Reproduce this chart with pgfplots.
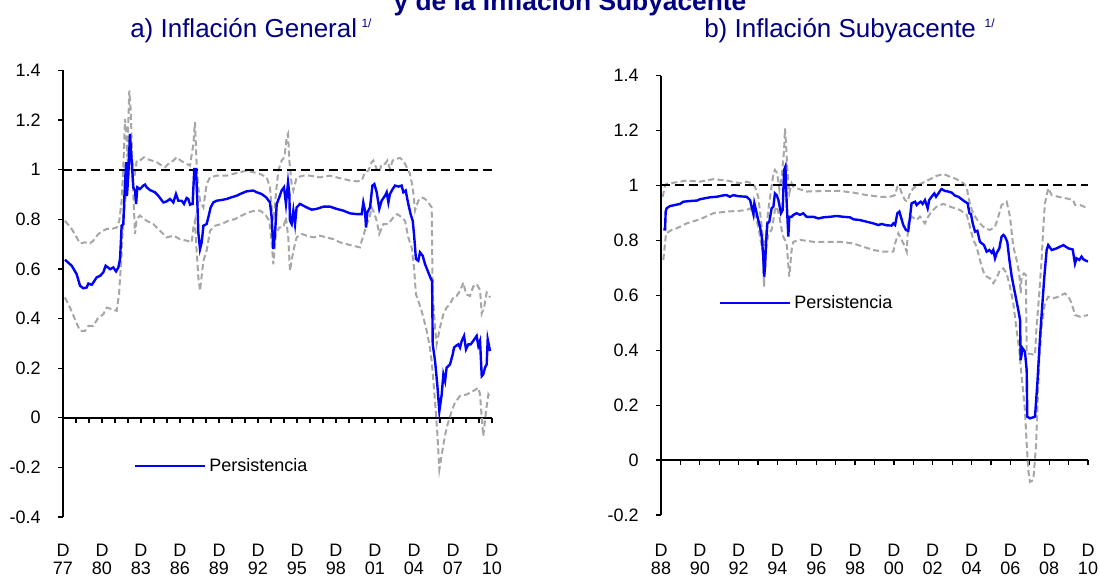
\documentclass[border=0pt]{standalone}
\usepackage{fontspec}
\setmainfont{Liberation Sans}
\usepackage{pgfplots}
\pgfplotsset{compat=1.18}
\definecolor{navy}{RGB}{0,0,128}
\definecolor{bandgray}{RGB}{166,166,166}
\definecolor{pblue}{RGB}{0,0,255}
\pgfplotsset{
  panel/.style={
    scale only axis, anchor=south west,
    axis y line*=left, axis x line*=middle,
    tick align=outside,
    major tick length=3.75pt, minor tick length=3.75pt,
    tick style={black, line width=0.9pt},
    axis line style={black, line width=1.1pt},
    tick label style={font=\fontsize{13.5}{13.5}\selectfont},
    yticklabel style={xshift=-9.5pt},
    xticklabel style={align=center, anchor=north},
    hide obscured x ticks=false, hide obscured y ticks=false,
    legend style={draw=none, fill=none, inner sep=0pt, anchor=west,
      font=\fontsize{13.5}{14.5}\selectfont},
    legend cell align=left,
    legend image code/.code={\draw[#1] (0pt,0pt) -- (52.5pt,0pt);},
  },
  band/.style={bandgray, line width=1.5pt, dash pattern=on 4.5pt off 2.5pt, forget plot},
  unity/.style={black, line width=1.5pt, dash pattern=on 6.5pt off 4pt, forget plot},
  pers/.style={pblue, line width=1.8pt},
}
\begin{document}
\begin{tikzpicture}
\useasboundingbox (0,0) rectangle (825pt,-432.75pt);
\node[anchor=base, text=navy, font=\fontsize{19.75}{21}\selectfont\bfseries, inner sep=0pt] at (427.5pt,-8pt) {y de la Inflación Subyacente};
\node[anchor=base west, text=navy, font=\fontsize{19.5}{21}\selectfont, inner sep=0pt] at (97.5pt,-28.5pt) {a) Inflación General\,\raisebox{7.5pt}{\fontsize{9}{10}\selectfont 1/}};
\node[anchor=base west, text=navy, font=\fontsize{19.5}{21}\selectfont, inner sep=0pt] at (528pt,-28.5pt) {b) Inflación Subyacente\,\,\raisebox{7.5pt}{\fontsize{9}{10}\selectfont 1/}};

% ---------------- left panel ----------------
\begin{axis}[panel,
  at={(47.25pt,-387.75pt)}, width=321.75pt, height=334.9pt,
  xmin=1977.92, xmax=2010.92, ymin=-0.4, ymax=1.4,
  ytick={-0.4,-0.2,0,0.2,0.4,0.6,0.8,1,1.2,1.4},
  yticklabels={-0.4,-0.2,0,0.2,0.4,0.6,0.8,1,1.2,1.4},
  xtick={1977.92,1980.92,1983.92,1986.92,1989.92,1992.92,1995.92,1998.92,2001.92,2004.92,2007.92,2010.92},
  xticklabels={{D\\77},{D\\80},{D\\83},{D\\86},{D\\89},{D\\92},{D\\95},{D\\98},{D\\01},{D\\04},{D\\07},{D\\10}},
  minor x tick num=2,
  xticklabel style={yshift=-87.5pt},
  legend style={at={(0.1655,0.114)}},
]
\addplot[band] coordinates {(1978.07,0.794)(1978.59,0.761)(1978.97,0.727)(1979.23,0.703)(1979.61,0.707)(1980.00,0.703)(1980.25,0.714)(1980.64,0.741)(1981.02,0.754)(1981.28,0.761)(1981.66,0.761)(1982.05,0.767)(1982.25,0.794)(1982.43,0.875)(1982.56,1.010)(1982.69,1.205)(1982.77,1.158)(1982.87,1.050)(1983.02,1.319)(1983.13,1.239)(1983.25,1.037)(1983.41,0.969)(1983.59,1.037)(1983.84,1.037)(1984.15,1.050)(1984.36,1.043)(1984.74,1.037)(1985.13,1.030)(1985.51,1.017)(1985.77,1.010)(1986.02,1.023)(1986.41,1.037)(1986.66,1.050)(1986.92,1.039)(1987.18,1.030)(1987.43,1.023)(1987.69,1.017)(1987.95,1.104)(1988.07,1.192)(1988.20,1.023)(1988.33,0.929)(1988.46,0.875)(1988.72,0.848)(1988.97,0.942)(1989.23,0.969)(1989.74,0.976)(1990.51,0.976)(1991.02,0.983)(1991.54,0.990)(1992.05,0.996)(1992.56,0.990)(1993.07,0.983)(1993.59,0.969)(1993.84,0.929)(1993.97,0.848)(1994.10,0.794)(1994.30,0.902)(1994.48,0.996)(1994.74,1.037)(1994.95,1.050)(1995.13,1.131)(1995.23,1.144)(1995.33,1.037)(1995.51,0.942)(1995.64,0.916)(1995.89,0.969)(1996.41,0.976)(1996.92,0.976)(1997.69,0.969)(1998.46,0.976)(1998.97,0.969)(1999.48,0.963)(2000.00,0.956)(2000.51,0.953)(2000.90,0.956)(2001.15,0.990)(2001.41,0.996)(2001.66,1.030)(2001.79,1.037)(2002.05,1.003)(2002.25,0.990)(2002.43,1.023)(2002.69,1.023)(2002.87,1.037)(2003.07,1.003)(2003.28,1.037)(2003.46,1.043)(2003.84,1.047)(2004.10,1.037)(2004.36,1.010)(2004.61,0.983)(2004.82,0.929)(2005.00,0.835)(2005.25,0.875)(2005.51,0.889)(2005.77,0.882)(2006.02,0.868)(2006.28,0.848)(2006.36,0.498)(2006.54,0.364)(2006.66,0.296)(2006.92,0.364)(2007.18,0.417)(2007.43,0.444)(2007.69,0.458)(2007.95,0.485)(2008.20,0.491)(2008.46,0.512)(2008.72,0.545)(2008.92,0.498)(2009.23,0.491)(2009.48,0.530)(2009.74,0.539)(2010.00,0.515)(2010.13,0.420)(2010.31,0.444)(2010.51,0.505)(2010.64,0.498)(2010.77,0.485)};
\addplot[band] coordinates {(1978.07,0.485)(1978.46,0.444)(1978.84,0.397)(1979.23,0.350)(1979.61,0.350)(1979.87,0.370)(1980.25,0.370)(1980.64,0.404)(1981.02,0.417)(1981.28,0.444)(1981.66,0.438)(1982.05,0.431)(1982.23,0.498)(1982.43,0.660)(1982.56,0.808)(1982.69,0.862)(1982.82,0.929)(1982.92,1.091)(1983.02,0.996)(1983.13,1.091)(1983.28,0.956)(1983.46,0.741)(1983.59,0.801)(1983.84,0.815)(1984.36,0.794)(1984.87,0.781)(1985.38,0.754)(1985.89,0.727)(1986.41,0.734)(1986.92,0.720)(1987.43,0.714)(1987.82,0.707)(1987.95,0.767)(1988.07,0.794)(1988.20,0.673)(1988.33,0.566)(1988.46,0.512)(1988.72,0.633)(1988.97,0.673)(1989.23,0.754)(1989.61,0.774)(1990.12,0.781)(1990.64,0.794)(1991.15,0.801)(1991.66,0.815)(1992.18,0.828)(1992.69,0.835)(1993.07,0.835)(1993.46,0.821)(1993.79,0.794)(1993.97,0.707)(1994.10,0.619)(1994.30,0.741)(1994.56,0.767)(1994.87,0.767)(1995.07,0.808)(1995.25,0.727)(1995.38,0.592)(1995.51,0.633)(1995.64,0.673)(1995.89,0.727)(1996.28,0.741)(1996.66,0.734)(1997.18,0.727)(1997.69,0.734)(1998.20,0.727)(1998.72,0.720)(1999.23,0.707)(1999.74,0.700)(2000.25,0.693)(2000.77,0.687)(2000.90,0.714)(2001.07,0.741)(2001.28,0.781)(2001.48,0.801)(2001.66,0.848)(2001.84,0.828)(2002.05,0.794)(2002.25,0.741)(2002.56,0.781)(2002.95,0.781)(2003.33,0.808)(2003.64,0.821)(2003.97,0.808)(2004.23,0.794)(2004.48,0.727)(2004.74,0.687)(2004.92,0.606)(2005.07,0.498)(2005.25,0.471)(2005.51,0.431)(2005.90,0.350)(2006.10,0.296)(2006.28,0.229)(2006.54,0.067)(2006.72,-0.067)(2006.87,-0.209)(2007.18,-0.108)(2007.43,-0.040)(2007.82,0.027)(2008.07,0.061)(2008.46,0.088)(2008.97,0.094)(2009.48,0.108)(2009.87,0.121)(2010.00,0.094)(2010.13,0.000)(2010.25,-0.074)(2010.46,0.027)(2010.64,0.094)(2010.77,0.081)};
\addplot[unity] coordinates {(1977.92,1)(2010.92,1)};
\addplot[pers] coordinates {(1978.07,0.637)(1978.59,0.613)(1978.97,0.579)(1979.23,0.532)(1979.48,0.522)(1979.74,0.525)(1979.87,0.541)(1980.13,0.536)(1980.25,0.545)(1980.51,0.566)(1980.77,0.572)(1981.02,0.586)(1981.20,0.613)(1981.54,0.599)(1981.79,0.606)(1982.00,0.590)(1982.18,0.606)(1982.31,0.640)(1982.43,0.774)(1982.56,0.781)(1982.64,0.889)(1982.77,1.030)(1982.84,0.895)(1982.95,0.983)(1983.07,1.144)(1983.20,1.037)(1983.33,0.929)(1983.46,0.916)(1983.54,0.862)(1983.64,0.929)(1983.84,0.922)(1984.10,0.936)(1984.23,0.940)(1984.36,0.929)(1984.61,0.918)(1984.99,0.909)(1985.25,0.895)(1985.64,0.868)(1985.89,0.872)(1986.15,0.882)(1986.41,0.868)(1986.61,0.902)(1986.79,0.875)(1987.05,0.875)(1987.23,0.862)(1987.43,0.886)(1987.56,0.882)(1987.69,0.859)(1987.89,0.862)(1988.02,1.003)(1988.15,1.003)(1988.25,0.875)(1988.33,0.747)(1988.46,0.680)(1988.59,0.707)(1988.72,0.774)(1988.97,0.781)(1989.10,0.808)(1989.28,0.848)(1989.48,0.868)(1989.74,0.875)(1990.12,0.878)(1990.51,0.882)(1990.89,0.889)(1991.28,0.895)(1991.54,0.902)(1992.05,0.913)(1992.56,0.916)(1992.82,0.909)(1993.20,0.902)(1993.54,0.889)(1993.84,0.868)(1993.97,0.808)(1994.10,0.680)(1994.23,0.741)(1994.36,0.862)(1994.56,0.889)(1994.74,0.916)(1994.92,0.929)(1995.07,0.862)(1995.23,0.949)(1995.33,0.902)(1995.38,0.794)(1995.51,0.781)(1995.64,0.835)(1995.77,0.781)(1995.89,0.848)(1996.15,0.862)(1996.41,0.855)(1996.66,0.848)(1997.05,0.839)(1997.43,0.842)(1997.95,0.851)(1998.46,0.851)(1998.97,0.842)(1999.48,0.835)(2000.00,0.824)(2000.51,0.821)(2000.90,0.821)(2001.02,0.868)(2001.15,0.835)(2001.23,0.767)(2001.33,0.828)(2001.54,0.848)(2001.72,0.936)(2001.87,0.942)(2002.05,0.909)(2002.25,0.842)(2002.43,0.875)(2002.69,0.895)(2002.82,0.909)(2002.95,0.868)(2003.07,0.902)(2003.28,0.922)(2003.46,0.936)(2003.72,0.932)(2003.97,0.936)(2004.10,0.909)(2004.28,0.916)(2004.48,0.862)(2004.66,0.821)(2004.82,0.794)(2004.92,0.741)(2005.07,0.640)(2005.25,0.633)(2005.38,0.667)(2005.59,0.653)(2005.77,0.619)(2006.02,0.586)(2006.23,0.559)(2006.31,0.552)(2006.36,0.296)(2006.54,0.229)(2006.72,0.128)(2006.87,0.027)(2007.05,0.094)(2007.18,0.175)(2007.31,0.148)(2007.43,0.202)(2007.69,0.215)(2007.90,0.256)(2008.00,0.283)(2008.15,0.290)(2008.33,0.296)(2008.46,0.283)(2008.59,0.310)(2008.77,0.330)(2008.92,0.276)(2009.10,0.296)(2009.28,0.296)(2009.48,0.310)(2009.74,0.330)(2009.87,0.290)(2010.00,0.310)(2010.13,0.168)(2010.25,0.175)(2010.38,0.202)(2010.51,0.215)(2010.59,0.316)(2010.77,0.269)};
\addlegendentry{Persistencia}
\end{axis}

% ---------------- right panel ----------------
\begin{axis}[panel,
  at={(495.75pt,-386.25pt)}, width=320.25pt, height=329.5pt,
  xmin=1988.92, xmax=2010.92, ymin=-0.2, ymax=1.4,
  ytick={-0.2,0,0.2,0.4,0.6,0.8,1,1.2,1.4},
  yticklabels={-0.2,0,0.2,0.4,0.6,0.8,1,1.2,1.4},
  xtick={1988.92,1990.92,1992.92,1994.92,1996.92,1998.92,2000.92,2002.92,2004.92,2006.92,2008.92,2010.92},
  xticklabels={{D\\88},{D\\90},{D\\92},{D\\94},{D\\96},{D\\98},{D\\00},{D\\02},{D\\04},{D\\06},{D\\08},{D\\10}},
  minor x tick num=1,
  xticklabel style={yshift=-55.5pt},
  legend style={at={(0.1358,0.4826)}},
]
\addplot[band] coordinates {(1989.01,0.959)(1989.13,1.002)(1989.21,1.006)(1990.24,1.018)(1990.93,1.014)(1991.62,1.023)(1992.30,1.018)(1992.99,1.008)(1993.33,1.014)(1993.59,1.008)(1993.76,0.996)(1993.93,0.959)(1994.05,0.887)(1994.16,0.814)(1994.23,0.741)(1994.33,0.826)(1994.45,0.911)(1994.57,0.972)(1994.71,1.044)(1994.79,1.057)(1994.91,1.044)(1995.02,0.984)(1995.14,1.032)(1995.26,1.129)(1995.31,1.208)(1995.36,1.154)(1995.43,1.057)(1995.53,0.972)(1995.65,1.008)(1995.74,0.996)(1995.91,0.990)(1996.42,0.978)(1997.45,0.980)(1998.14,0.980)(1998.83,0.974)(1999.52,0.965)(2000.20,0.959)(2000.72,0.959)(2000.98,0.965)(2001.10,0.996)(2001.20,0.998)(2001.32,0.972)(2001.49,0.947)(2001.61,0.941)(2001.75,0.972)(2001.92,0.990)(2002.18,1.002)(2002.52,1.014)(2002.86,1.026)(2003.12,1.035)(2003.47,1.042)(2003.81,1.032)(2004.15,1.023)(2004.50,1.008)(2004.67,0.996)(2004.75,0.959)(2004.93,0.911)(2005.10,0.887)(2005.35,0.862)(2005.61,0.844)(2005.87,0.838)(2006.13,0.850)(2006.30,0.887)(2006.47,0.929)(2006.73,0.941)(2006.90,0.887)(2007.07,0.777)(2007.24,0.729)(2007.38,0.680)(2007.45,0.607)(2007.50,0.668)(2007.62,0.680)(2007.72,0.674)(2007.76,0.389)(2008.19,0.383)(2008.27,0.486)(2008.41,0.607)(2008.53,0.729)(2008.62,0.850)(2008.70,0.935)(2008.87,0.990)(2009.05,0.965)(2009.39,0.959)(2009.82,0.953)(2010.16,0.947)(2010.25,0.929)(2010.51,0.929)(2010.92,0.917)};
\addplot[band] coordinates {(1989.04,0.729)(1989.18,0.826)(1989.47,0.838)(1989.73,0.844)(1990.24,0.862)(1990.93,0.877)(1991.62,0.899)(1992.30,0.905)(1992.99,0.908)(1993.33,0.911)(1993.51,0.917)(1993.76,0.893)(1993.93,0.850)(1994.05,0.802)(1994.16,0.765)(1994.23,0.632)(1994.33,0.765)(1994.45,0.826)(1994.62,0.838)(1994.71,0.874)(1994.79,0.911)(1994.88,0.923)(1995.02,0.887)(1995.14,0.838)(1995.22,0.814)(1995.39,0.789)(1995.53,0.668)(1995.65,0.765)(1995.74,0.795)(1996.08,0.802)(1996.77,0.795)(1997.45,0.795)(1998.14,0.795)(1998.83,0.789)(1999.34,0.777)(1999.86,0.765)(2000.37,0.759)(2000.89,0.759)(2000.98,0.789)(2001.15,0.826)(2001.32,0.802)(2001.49,0.777)(2001.58,0.759)(2001.66,0.862)(2001.83,0.887)(2002.09,0.874)(2002.26,0.887)(2002.52,0.862)(2002.69,0.887)(2002.86,0.905)(2003.12,0.923)(2003.47,0.933)(2003.81,0.923)(2004.32,0.911)(2004.67,0.893)(2004.84,0.850)(2005.01,0.802)(2005.18,0.777)(2005.35,0.729)(2005.53,0.686)(2005.70,0.668)(2005.87,0.662)(2006.04,0.644)(2006.21,0.662)(2006.38,0.692)(2006.56,0.698)(2006.73,0.680)(2006.90,0.632)(2007.07,0.571)(2007.24,0.474)(2007.38,0.401)(2007.50,0.304)(2007.59,0.243)(2007.67,0.182)(2007.76,0.061)(2007.84,-0.036)(2007.93,-0.079)(2008.10,-0.073)(2008.24,0.049)(2008.31,0.182)(2008.41,0.364)(2008.53,0.486)(2008.70,0.571)(2008.87,0.595)(2009.13,0.589)(2009.39,0.595)(2009.73,0.607)(2009.91,0.595)(2010.08,0.571)(2010.25,0.528)(2010.51,0.522)(2010.92,0.528)};
\addplot[unity] coordinates {(1988.92,1)(2010.92,1)};
\addplot[pers] coordinates {(1989.04,0.840)(1989.13,0.840)(1989.16,0.905)(1989.21,0.917)(1989.38,0.925)(1989.64,0.929)(1989.90,0.933)(1990.07,0.941)(1990.50,0.944)(1990.76,0.945)(1990.93,0.950)(1991.44,0.957)(1991.79,0.959)(1992.13,0.964)(1992.30,0.965)(1992.47,0.959)(1992.65,0.965)(1992.90,0.961)(1993.33,0.959)(1993.51,0.947)(1993.59,0.923)(1993.68,0.896)(1993.73,0.935)(1993.81,0.911)(1993.93,0.874)(1994.02,0.850)(1994.11,0.814)(1994.19,0.741)(1994.23,0.668)(1994.28,0.704)(1994.33,0.789)(1994.40,0.862)(1994.50,0.868)(1994.62,0.917)(1994.71,0.923)(1994.79,0.971)(1994.88,0.965)(1994.97,0.947)(1995.10,0.899)(1995.19,0.911)(1995.26,1.056)(1995.33,1.069)(1995.39,0.947)(1995.48,0.814)(1995.53,0.886)(1995.65,0.886)(1995.74,0.893)(1995.91,0.899)(1996.08,0.893)(1996.25,0.899)(1996.42,0.886)(1996.77,0.886)(1997.03,0.880)(1997.28,0.884)(1997.63,0.886)(1997.97,0.889)(1998.31,0.886)(1998.66,0.884)(1998.83,0.877)(1999.17,0.874)(1999.52,0.868)(1999.86,0.862)(2000.12,0.856)(2000.29,0.860)(2000.55,0.855)(2000.80,0.854)(2000.89,0.862)(2000.98,0.856)(2001.10,0.899)(2001.20,0.905)(2001.28,0.886)(2001.40,0.856)(2001.54,0.838)(2001.66,0.835)(2001.75,0.886)(2001.83,0.935)(2002.01,0.941)(2002.09,0.929)(2002.18,0.935)(2002.30,0.941)(2002.40,0.933)(2002.52,0.947)(2002.66,0.917)(2002.74,0.947)(2002.86,0.959)(2003.00,0.971)(2003.09,0.959)(2003.21,0.971)(2003.33,0.984)(2003.38,0.987)(2003.55,0.980)(2003.72,0.978)(2003.90,0.974)(2004.07,0.963)(2004.24,0.959)(2004.41,0.950)(2004.58,0.941)(2004.72,0.935)(2004.81,0.899)(2004.89,0.896)(2004.98,0.862)(2005.10,0.832)(2005.22,0.835)(2005.35,0.795)(2005.56,0.783)(2005.70,0.759)(2005.84,0.765)(2005.96,0.755)(2006.04,0.765)(2006.13,0.735)(2006.21,0.753)(2006.35,0.771)(2006.47,0.814)(2006.56,0.820)(2006.64,0.814)(2006.76,0.795)(2006.87,0.729)(2006.99,0.668)(2007.16,0.607)(2007.33,0.546)(2007.42,0.510)(2007.45,0.364)(2007.55,0.407)(2007.67,0.395)(2007.76,0.328)(2007.79,0.158)(2007.93,0.152)(2008.19,0.158)(2008.31,0.279)(2008.45,0.449)(2008.62,0.619)(2008.67,0.668)(2008.79,0.765)(2008.87,0.783)(2009.05,0.765)(2009.30,0.771)(2009.65,0.783)(2009.91,0.771)(2010.13,0.767)(2010.25,0.716)(2010.33,0.735)(2010.47,0.729)(2010.59,0.741)(2010.68,0.731)(2010.85,0.725)(2010.92,0.723)};
\addlegendentry{Persistencia}
\end{axis}
\end{tikzpicture}
\end{document}
